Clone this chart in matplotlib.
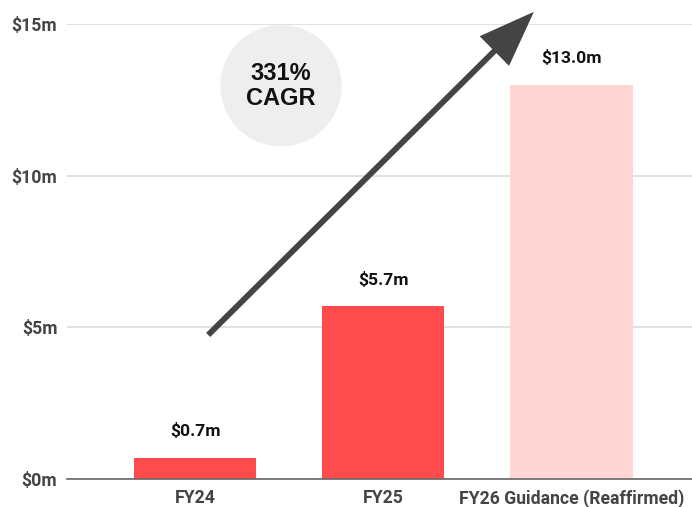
import matplotlib.pyplot as plt
from matplotlib.patches import Ellipse

# data
categories = ['FY24', 'FY25', 'FY26 Guidance (Reaffirmed)']
values = [0.7, 5.7, 13.0]
value_labels = ['$0.7m', '$5.7m', '$13.0m']
bar_colors = ['#ff4b4b', '#ff4b4b', '#ffd6d3']
y_ticks = [0, 5, 10, 15]
y_tick_labels = ['$0m', '$5m', '$10m', '$15m']
cagr_text = '331%\nCAGR'

plt.rcParams['font.family'] = ['Roboto', 'DejaVu Sans']

fig = plt.figure(figsize=(6.92, 5.07), dpi=100)
ax = fig.add_axes([0.0968, 0.0552, 0.9032, 0.8975])

x = list(range(len(categories)))
ax.bar(x, values, width=0.65, color=bar_colors, zorder=2)

for xi, v, lab in zip(x, values, value_labels):
    ax.annotate(lab, (xi, v), xytext=(0, 19), textcoords='offset points',
                ha='center', va='center', fontsize=12.6, fontweight='bold',
                color='#111111')

ax.set_xlim(-0.68, 2.64)
ax.set_ylim(0, 15)
ax.set_yticks(y_ticks)
ax.set_yticklabels(y_tick_labels)
ax.set_xticks(x)
ax.set_xticklabels(categories)
ax.tick_params(axis='both', length=0, labelsize=12.7, colors='#444444')
ax.tick_params(axis='y', pad=7)
ax.tick_params(axis='x', pad=7)
for lbl in ax.get_xticklabels() + ax.get_yticklabels():
    lbl.set_fontweight('bold')

ax.grid(axis='y', color='#dcdcdc', lw=1.2, zorder=0)
for s in ['top', 'right', 'left']:
    ax.spines[s].set_visible(False)
ax.spines['bottom'].set_color('#666666')
ax.spines['bottom'].set_linewidth(1.2)
ax.spines['bottom'].set_zorder(3)

# CAGR bubble (pixel-ish placement via axes fraction)
circ = Ellipse((0.3424, 0.8644), width=120 / 625, height=120 / 455,
               transform=ax.transAxes, color='#eeeeee', zorder=1)
ax.add_patch(circ)
ax.text(0.3424, 0.8644, cagr_text, transform=ax.transAxes, ha='center',
        va='center', fontsize=17, fontweight='bold', linespacing=1.1,
        family=['Liberation Sans', 'DejaVu Sans'], color='#111111', zorder=4)

# growth arrow
ax.annotate('', xy=(1.80, 15.4), xytext=(0.07, 4.75),
            arrowprops=dict(arrowstyle='-|>,head_length=1.6,head_width=0.6',
                            mutation_scale=20, lw=4.2, color='#444444',
                            shrinkA=0, shrinkB=0, joinstyle='miter',
                            capstyle='butt'),
            annotation_clip=False, zorder=5)

fig.savefig('out.png', dpi=100)
